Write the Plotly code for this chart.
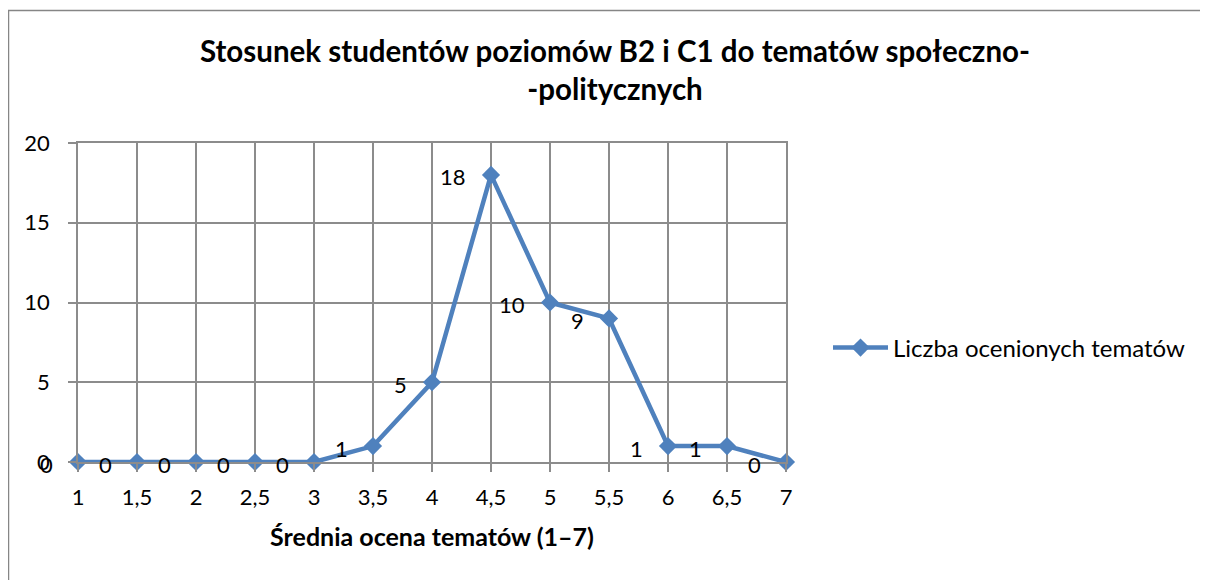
import plotly.graph_objects as go

x_values = [1, 1.5, 2, 2.5, 3, 3.5, 4, 4.5, 5, 5.5, 6, 6.5, 7]
x_labels = ["1", "1,5", "2", "2,5", "3", "3,5", "4", "4,5", "5", "5,5", "6", "6,5", "7"]
values = [0, 0, 0, 0, 0, 1, 5, 18, 10, 9, 1, 1, 0]
series_name = "Liczba ocenionych tematów"
title_text = "Stosunek studentów poziomów B2 i C1 do tematów społeczno-<br>-politycznych"
x_title = "Średnia ocena tematów (1–7)"
y_ticks = [0, 5, 10, 15, 20]

BLUE = "#4F81BD"
GRID = "#8C8C8C"
FONT = "Lato"

# the page body adds an 8px offset; figure is sized so that it fills the window
FW, FH = 1200, 572
L, R, T, B = 70, 422, 135, 118
W, H = FW - L - R, FH - T - B

fig = go.Figure()
fig.add_trace(go.Scatter(
    x=x_values, y=values, mode="lines+markers", name=series_name,
    line=dict(color=BLUE, width=4.5),
    marker=dict(symbol="diamond", size=14, color=BLUE),
    cliponaxis=False,
))

for xv, v in zip(x_values, values):
    fig.add_annotation(x=xv, y=v, text=str(v), showarrow=False,
                       xanchor="right", yanchor="middle", xshift=-23, yshift=-2,
                       font=dict(family=FONT, size=22, color="black"))

fig.update_layout(
    width=FW, height=FH,
    margin=dict(l=L, r=R, t=T, b=B, autoexpand=False),
    paper_bgcolor="white", plot_bgcolor="white",
    font=dict(family=FONT, size=22, color="black"),
    title=dict(text="<b>" + title_text + "</b>", x=607 / FW, xanchor="center",
               xref="container", yref="container", y=1 - 54 / FH, yanchor="top",
               font=dict(family=FONT, size=29.5, color="black")),
    showlegend=True,
    legend=dict(x=(820 - L) / W, y=(454 - 340) / H, xanchor="left", yanchor="middle",
                itemwidth=55,
                font=dict(family=FONT, size=24), bgcolor="rgba(0,0,0,0)"),
    xaxis=dict(range=[1, 7], tickvals=x_values, ticktext=x_labels,
               showgrid=True, gridcolor=GRID, gridwidth=1.5,
               showline=True, linecolor=GRID, linewidth=1.5, mirror=True,
               zeroline=False,
               ticks="outside", ticklen=8, tickcolor=GRID, tickwidth=1.5,
               ticklabelstandoff=7,
               tickfont=dict(family=FONT, size=22),
               title=dict(text="<b>" + x_title + "</b>", standoff=19,
                          font=dict(family=FONT, size=25))),
    yaxis=dict(range=[0, 20], tickvals=y_ticks, ticktext=[str(t) for t in y_ticks],
               showgrid=True, gridcolor=GRID, gridwidth=1.5,
               showline=True, linecolor=GRID, linewidth=1.5, mirror=True,
               zeroline=False,
               ticks="outside", ticklen=8, tickcolor=GRID, tickwidth=1.5,
               ticklabelstandoff=14,
               tickfont=dict(family=FONT, size=22)),
)

fig.add_shape(type="rect", xref="paper", yref="paper",
              x0=(0.5 - L) / W, x1=(1260 - L) / W,
              y0=(H + T - 620) / H, y1=(H + T - 2.5) / H,
              line=dict(color="#868686", width=1.5), fillcolor="rgba(0,0,0,0)", layer="below")

fig.write_html("out.html")
